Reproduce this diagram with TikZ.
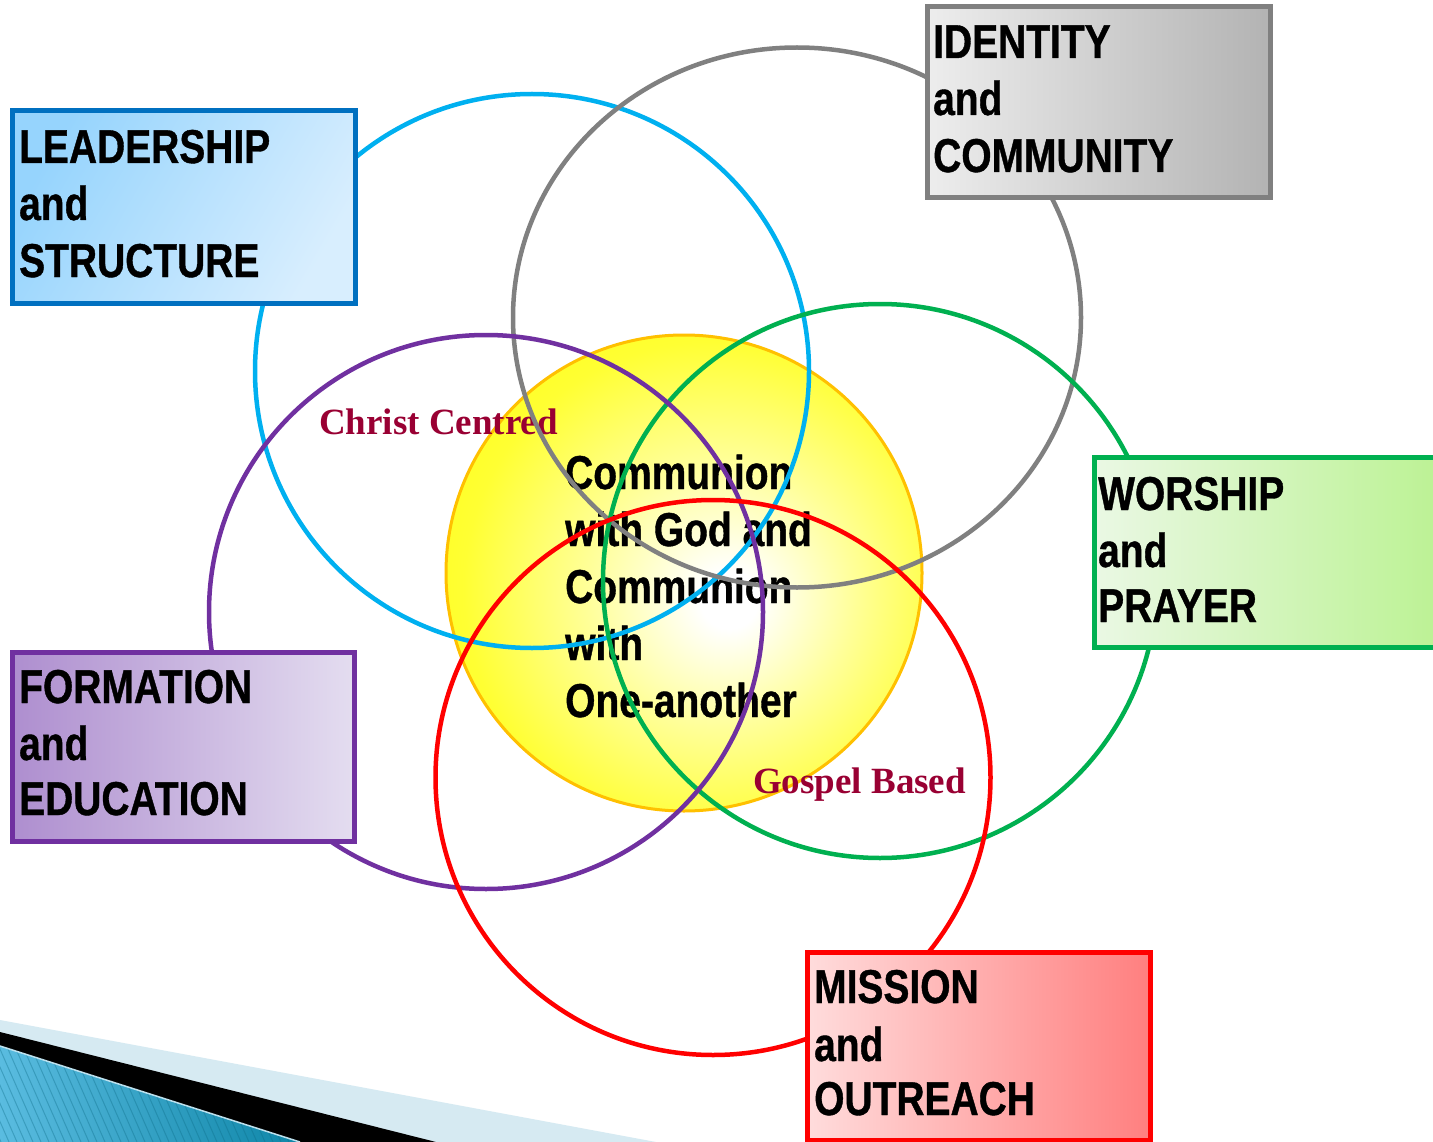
\documentclass[tikz,border=0pt]{standalone}
\usepackage{fontspec}
\newfontfamily\lbl{Liberation Sans}[FakeStretch=0.82,FakeBold=0.8]
\newfontfamily\tms{Liberation Serif}
\definecolor{cyanring}{HTML}{00B0F0}
\definecolor{grayring}{HTML}{808080}
\definecolor{greenring}{HTML}{00B050}
\definecolor{purplering}{HTML}{7030A0}
\definecolor{redring}{HTML}{FF0000}
\definecolor{blueedge}{HTML}{0070C0}
\definecolor{motto}{HTML}{990033}
\definecolor{sunedge}{HTML}{FFC000}
\definecolor{sunyellow}{HTML}{FFFF00}
\definecolor{paleband}{HTML}{D6EAF2}
\definecolor{stripeA}{HTML}{5ABCE0}
\definecolor{stripeB}{HTML}{0E86A8}
\definecolor{leadA}{HTML}{96D4FD}
\definecolor{leadB}{HTML}{D8EEFE}
\definecolor{idA}{HTML}{EDEDED}
\definecolor{idB}{HTML}{B3B3B3}
\definecolor{worA}{HTML}{EAF8E4}
\definecolor{worB}{HTML}{BCF294}
\definecolor{forA}{HTML}{AE8ECF}
\definecolor{forB}{HTML}{E4DDF0}
\definecolor{misA}{HTML}{FFDCDC}
\definecolor{misB}{HTML}{FF7F7F}
\pgfdeclareradialshading{sun}{\pgfpoint{5bp}{-3bp}}{%
  color(0bp)=(white); color(3bp)=(white); color(14bp)=(sunyellow!40!white);
  color(26bp)=(sunyellow!80!white); color(38bp)=(sunyellow!97!white); color(46bp)=(sunyellow); color(60bp)=(sunyellow)}
\begin{document}
\begin{tikzpicture}[x=1pt,y=-1pt,
  ring/.style={line width=4.5pt},
  lbox/.style={rectangle, line width=5pt, inner sep=0pt, outer sep=0pt, anchor=north west},
  lab/.style={anchor=base west, inner sep=0pt, font=\lbl\bfseries\fontsize{47.5}{57}\selectfont},
  mottotext/.style={anchor=base west, inner sep=0pt, text=motto, font=\tms\bfseries\fontsize{37}{40}\selectfont}]
\useasboundingbox (0,0) rectangle (1433,1142);
\fill[white] (0,0) rectangle (1433,1142);

% corner decoration
\fill[paleband] (0,1020) -- (656,1142) -- (0,1142) -- cycle;
\fill[black] (0,1032) -- (436,1142) -- (0,1142) -- cycle;
\shade[left color=stripeA, right color=stripeB] (0,1046) -- (300,1142) -- (0,1142) -- cycle;
\begin{scope}
  \clip (0,1046) -- (300,1142) -- (0,1142) -- cycle;
  \foreach \s in {-60,-52,...,300} {
    \draw[stripeB!80!black, opacity=0.35, line width=1pt] (\s,1040) -- (\s+45,1142);
  }
\end{scope}
\draw[paleband!80!stripeA, line width=1.5pt] (0,1046) -- (300,1142);

% sun
\node[circle, minimum size=476pt, inner sep=0pt, shading=sun, draw=sunedge, line width=3pt] (sun) at (684,573) {};

% texts
\node[mottotext] (cc) at (319,434) {Christ Centred};
\node[mottotext] (gb) at (753,793) {Gospel Based};
\node[lab] (c1) at (565,489) {Communion};
\node[lab] (c2) at (565,546) {with God and};
\node[lab] (c3) at (565,603) {Communion};
\node[lab] (c4) at (565,660) {with};
\node[lab] (c5) at (565,717) {One-another};

% rings
\draw[ring, cyanring] (532,371) circle (277);
\draw[ring, grayring] (797,317.5) ellipse [x radius=284, y radius=270];
\draw[ring, greenring] (880,581) circle (277);
\draw[ring, purplering] (486,612) circle (277);
\draw[ring, redring] (713,777.5) circle (277.5);

% boxes
\node[lbox, draw=blueedge, left color=leadA, right color=leadB, shading angle=60,
      minimum width=343, minimum height=193] (lead) at (12.5,110.5) {};
\node[lbox, draw=grayring, left color=idA, right color=idB,
      minimum width=343, minimum height=191] (ident) at (927.5,6.5) {};
\node[lbox, draw=greenring, left color=worA, right color=worB,
      minimum width=346, minimum height=190] (wor) at (1094.5,457.5) {};
\node[lbox, draw=purplering, left color=forA, right color=forB,
      minimum width=342, minimum height=189] (form) at (12.5,652.5) {};
\node[lbox, draw=redring, left color=misA, right color=misB,
      minimum width=343, minimum height=188] (miss) at (807.5,952.5) {};

\node[lab] (l1) at (19,163) {LEADERSHIP};
\node[lab] (l2) at (19,220) {and};
\node[lab] (l3) at (19,277) {STRUCTURE};
\node[lab] (i1) at (933,58) {IDENTITY};
\node[lab] (i2) at (933,115) {and};
\node[lab] (i3) at (933,172) {COMMUNITY};
\node[lab] (w1) at (1098,510) {WORSHIP};
\node[lab] (w2) at (1098,567) {and};
\node[lab] (w3) at (1098,622) {PRAYER};
\node[lab] (f1) at (19,703) {FORMATION};
\node[lab] (f2) at (19,760) {and};
\node[lab] (f3) at (19,815) {EDUCATION};
\node[lab] (m1) at (814,1003) {MISSION};
\node[lab] (m2) at (814,1061) {and};
\node[lab] (m3) at (814,1115) {OUTREACH};
\end{tikzpicture}
\end{document}
